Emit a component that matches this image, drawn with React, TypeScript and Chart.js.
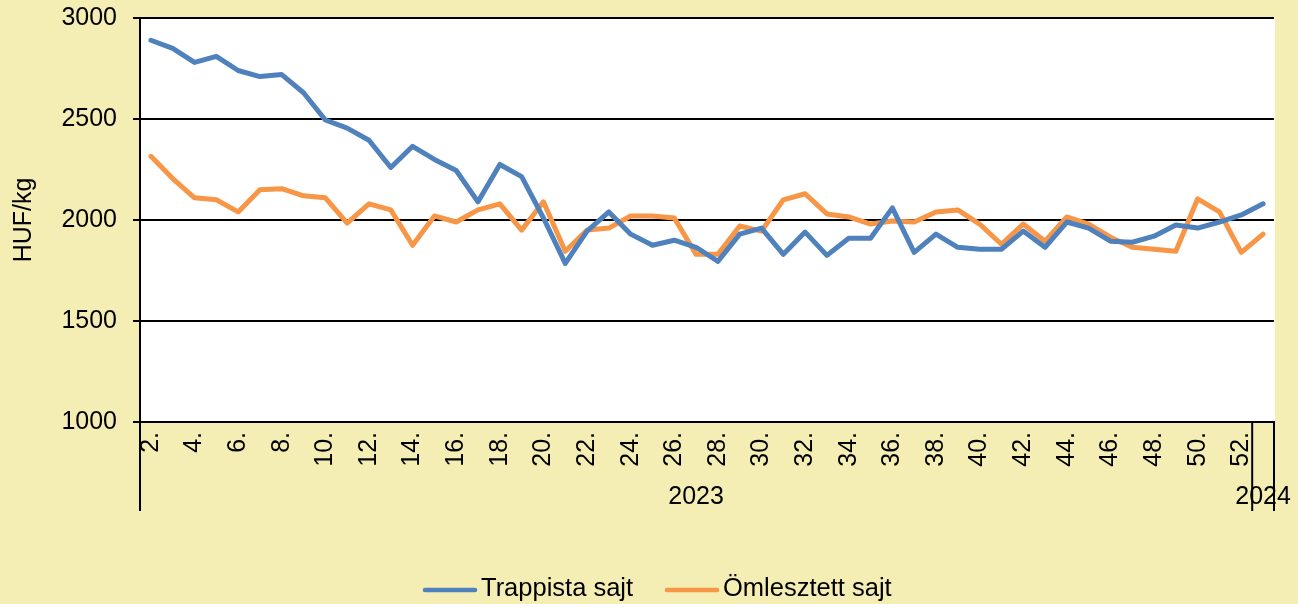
import React, { useEffect, useRef } from "react";
import { Chart, registerables } from "chart.js";

Chart.register(...registerables);

const weekLabels = [
  "2.", "3.", "4.", "5.", "6.", "7.", "8.", "9.", "10.", "11.", "12.", "13.", "14.",
  "15.", "16.", "17.", "18.", "19.", "20.", "21.", "22.", "23.", "24.", "25.", "26.",
  "27.", "28.", "29.", "30.", "31.", "32.", "33.", "34.", "35.", "36.", "37.", "38.",
  "39.", "40.", "41.", "42.", "43.", "44.", "45.", "46.", "47.", "48.", "49.", "50.",
  "51.", "52.", "1.",
];

const yearLabels = ["2023", "2024"];
const yearWeekCounts = [51, 1];

const trappista = [
  2890, 2850, 2780, 2810, 2740, 2710, 2720, 2630, 2495, 2455, 2395, 2260, 2365,
  2300, 2245, 2090, 2275, 2215, 2010, 1785, 1945, 2040, 1930, 1875, 1900,
  1865, 1795, 1930, 1960, 1830, 1940, 1825, 1910, 1910, 2060, 1840, 1930,
  1865, 1855, 1855, 1945, 1865, 1990, 1960, 1895, 1890, 1920, 1975, 1960,
  1990, 2025, 2080,
];

const omlesztett = [
  2315, 2205, 2110, 2100, 2040, 2150, 2155, 2120, 2110, 1985, 2080, 2050, 1875,
  2020, 1990, 2050, 2080, 1950, 2090, 1845, 1950, 1960, 2020, 2020, 2010,
  1830, 1830, 1970, 1945, 2100, 2130, 2030, 2015, 1980, 1995, 1990, 2040,
  2050, 1980, 1880, 1980, 1895, 2015, 1980, 1915, 1865, 1855, 1845, 2105,
  2040, 1840, 1930,
];

const seriesNames = ["Trappista sajt", "Ömlesztett sajt"];
const seriesColors = ["#4F81BD", "#F79646"];

const yTicks = { min: 1000, max: 3000, step: 500 };
const yTitle = "HUF/kg";

const FONT = "'Liberation Sans', Arial, sans-serif";
const BG = "#F4EEB4";

const backgroundPlugin = {
  id: "bgPlugin",
  beforeDraw(chart: any) {
    const { ctx, chartArea, width, height } = chart;
    ctx.save();
    ctx.fillStyle = BG;
    ctx.fillRect(0, 0, width, height);
    ctx.fillStyle = "#FFFFFF";
    ctx.fillRect(chartArea.left, chartArea.top, chartArea.right - chartArea.left + 1, chartArea.bottom - chartArea.top);
    ctx.restore();
  },
};

const groupPlugin = {
  id: "groupPlugin",
  afterDraw(chart: any) {
    const { ctx, chartArea } = chart;
    const xs = chart.scales.x;
    const step = xs.getPixelForValue(1) - xs.getPixelForValue(0);
    const top = chartArea.bottom;
    const lineBottom = top + 89;
    ctx.save();
    ctx.strokeStyle = "#000";
    ctx.lineWidth = 2;
    ctx.fillStyle = "#000";
    ctx.font = `25px ${FONT}`;
    ctx.textAlign = "center";
    ctx.textBaseline = "middle";
    let start = 0;
    const drawV = (x: number) => {
      ctx.beginPath();
      ctx.moveTo(x, top);
      ctx.lineTo(x, lineBottom);
      ctx.stroke();
    };
    drawV(xs.getPixelForValue(0) - step / 2);
    yearLabels.forEach((lab, gi) => {
      const end = start + yearWeekCounts[gi] - 1;
      const x0 = xs.getPixelForValue(start) - step / 2;
      const x1 = xs.getPixelForValue(end) + step / 2;
      drawV(x1);
      ctx.fillText(lab, (x0 + x1) / 2, top + 75);
      start = end + 1;
    });

    // legend
    const items = [423, 665];
    const ly = 589;
    ctx.font = `25.5px ${FONT}`;
    ctx.textAlign = "left";
    items.forEach((x, i) => {
      ctx.strokeStyle = seriesColors[i];
      ctx.lineWidth = 4.5;
      ctx.lineCap = "round";
      ctx.beginPath();
      ctx.moveTo(x + 2, ly + 1);
      ctx.lineTo(x + 52, ly + 1);
      ctx.stroke();
      ctx.fillStyle = "#000";
      ctx.fillText(seriesNames[i], x + 58, ly);
    });
    ctx.restore();
  },
};

export default function App() {
  const ref = useRef<HTMLCanvasElement | null>(null);

  useEffect(() => {
    document.body.style.margin = "0";
    const canvas = ref.current;
    if (!canvas) return;
    const chart = new Chart(canvas, {
      type: "line",
      data: {
        labels: weekLabels,
        datasets: [
          {
            label: seriesNames[0],
            data: trappista,
            borderColor: seriesColors[0],
            backgroundColor: seriesColors[0],
            borderWidth: 5,
            pointRadius: 0,
            tension: 0,
            borderJoinStyle: "round",
            borderCapStyle: "round",
          },
          {
            label: seriesNames[1],
            data: omlesztett,
            borderColor: seriesColors[1],
            backgroundColor: seriesColors[1],
            borderWidth: 5,
            pointRadius: 0,
            tension: 0,
            borderJoinStyle: "round",
            borderCapStyle: "round",
          },
        ],
      },
      options: {
        animation: false,
        responsive: false,
        maintainAspectRatio: false,
        layout: { padding: { top: 18, right: 24, bottom: 0, left: 0 } },
        plugins: {
          legend: { display: false },
          tooltip: { enabled: false },
        },
        scales: {
          x: {
            type: "category",
            offset: true,
            grid: { display: false, drawTicks: false },
            border: { display: true, color: "#000", width: 2 },
            ticks: {
              autoSkip: false,
              maxRotation: 90,
              minRotation: 90,
              padding: 10,
              color: "#000",
              font: { family: FONT, size: 25 },
              callback: (_v: any, i: number) => (i % 2 === 0 ? weekLabels[i] : ""),
            },
            afterFit: (s: any) => {
              s.height = 182;
              s.paddingLeft = 0;
              s.paddingRight = 0;
            },
          },
          y: {
            min: yTicks.min,
            max: yTicks.max,
            grid: {
              color: "#000",
              lineWidth: 2,
              drawTicks: true,
              tickLength: 7,
              tickColor: "#000",
            },
            border: { display: true, color: "#000", width: 2 },
            ticks: {
              stepSize: yTicks.step,
              padding: 16,
              color: "#000",
              font: { family: FONT, size: 25 },
              callback: (v: any) => String(v),
            },
            title: {
              display: true,
              text: yTitle,
              color: "#000",
              font: { family: FONT, size: 25 },
              padding: { top: 9, bottom: 0 },
            },
            afterFit: (s: any) => {
              s.width = 140;
              s.paddingTop = 0;
              s.paddingBottom = 0;
            },
          },
        },
      },
      plugins: [backgroundPlugin, groupPlugin],
    });
    return () => chart.destroy();
  }, []);

  return (
    <div style={{ width: 1298, height: 604, background: BG, overflow: "hidden" }}>
      <canvas ref={ref} width={1298} height={604} style={{ display: "block" }} />
    </div>
  );
}
